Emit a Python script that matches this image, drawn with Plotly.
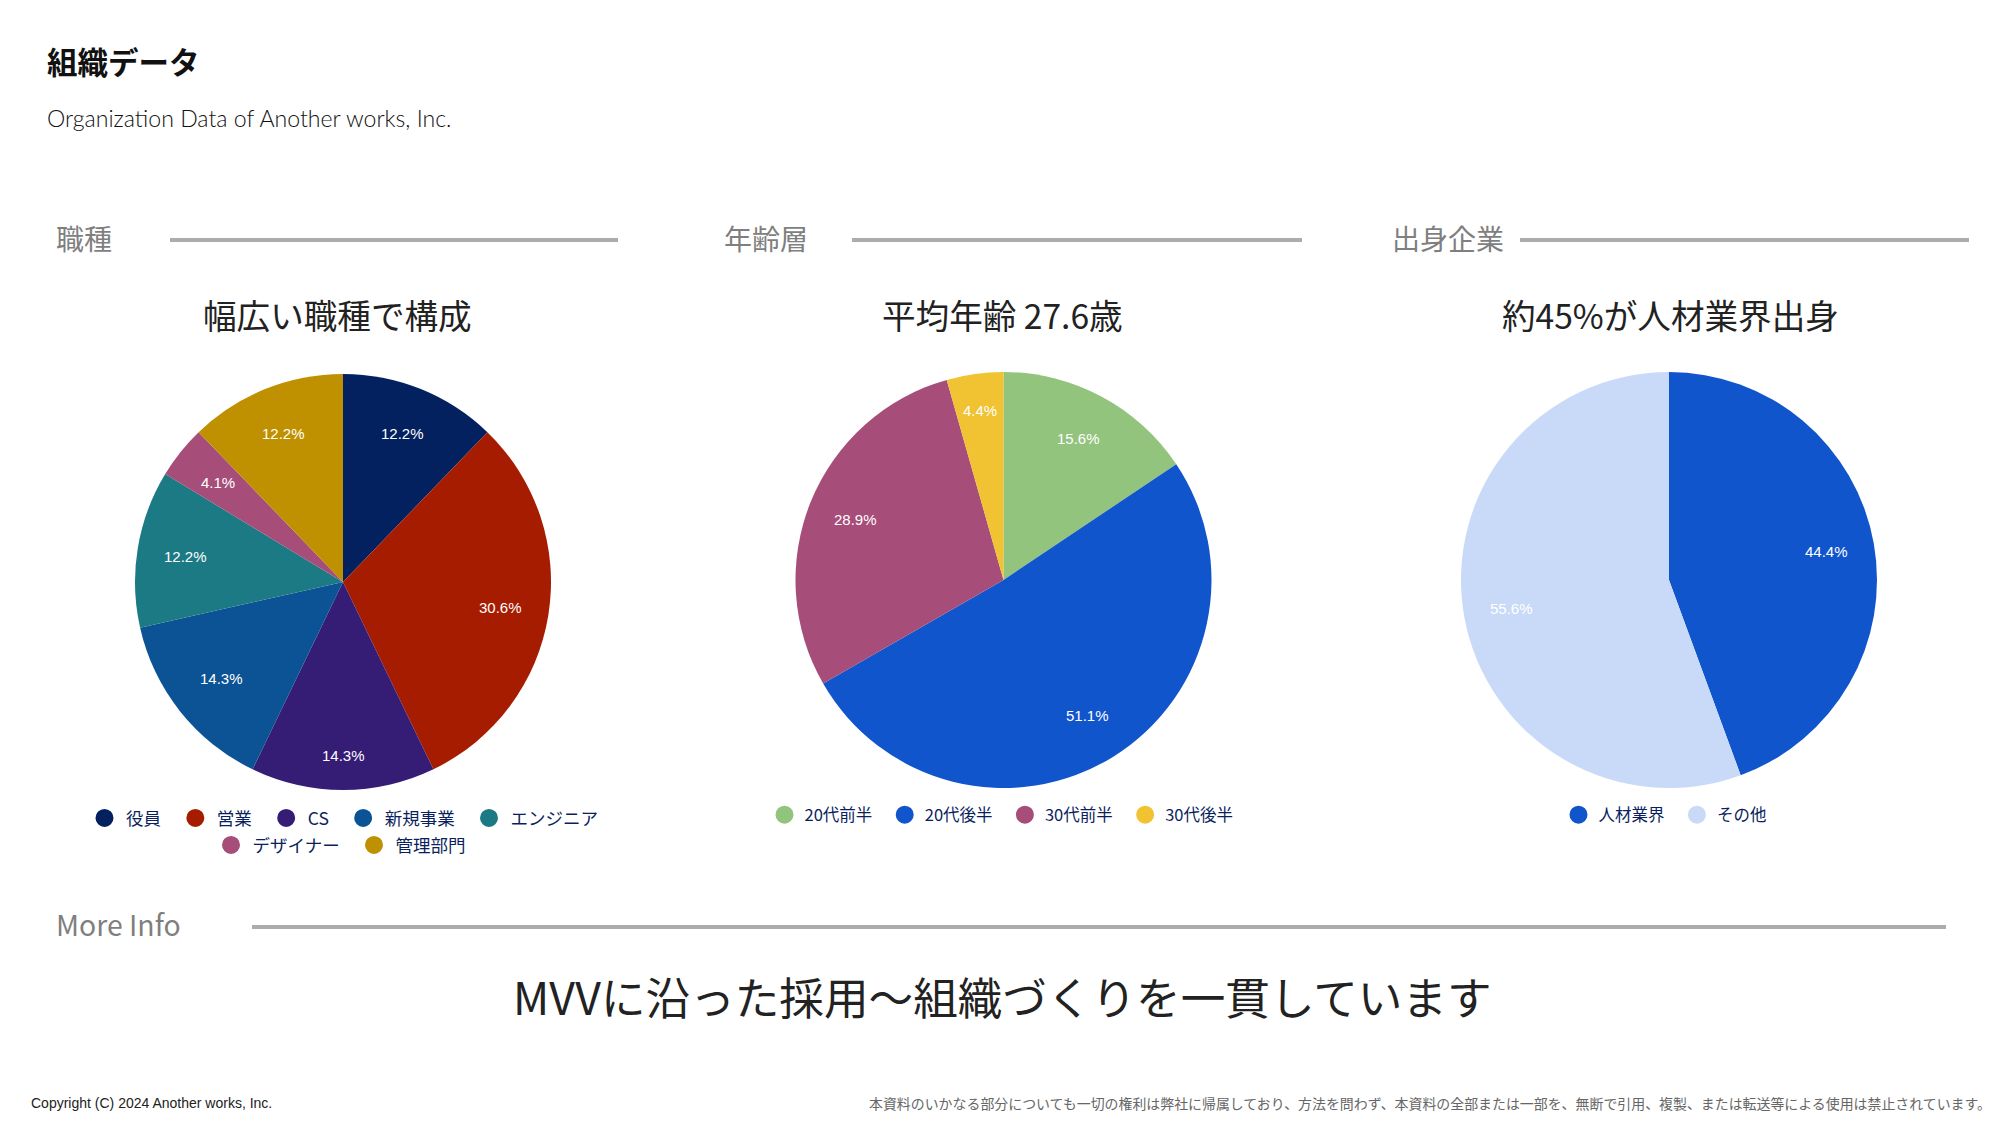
import math
import plotly.graph_objects as go

W, H = 2000, 1125
JP = "Noto Sans CJK JP"

# chart data
job_labels = ["役員", "営業", "CS", "新規事業", "エンジニア", "デザイナー", "管理部門"]
job_values = [12.2, 30.6, 14.3, 14.3, 12.2, 4.1, 12.2]
job_colors = ["#03205f", "#a61c00", "#351c75", "#0b5394", "#1c7a85", "#a64d79", "#bf9000"]

age_labels = ["20代前半", "20代後半", "30代前半", "30代後半"]
age_values = [15.6, 51.1, 28.9, 4.4]
age_colors = ["#93c47d", "#1155cc", "#a64d79", "#f1c232"]

origin_labels = ["人材業界", "その他"]
origin_values = [44.4, 55.6]
origin_colors = ["#1155cc", "#c9daf8"]

# how far out each percent label sits, in px from the pie centre
job_label_r = [160, 160, 173, 155, 160, 160, 160]
age_label_r = [160, 160, 160, 171]
origin_label_r = [160, 160]


def xf(px):
    return px / W


def yf(px):
    return 1 - px / H


def add_text(fig, text, x, y, size, color, anchor="left", family=JP, bold=False):
    if bold:
        text = "<b>" + text + "</b>"
    fig.add_annotation(x=xf(x), y=yf(y), xref="paper", yref="paper", text=text, showarrow=False,
                       xanchor=anchor, yanchor="middle",
                       font=dict(size=size, color=color, family=family))


def add_rule(fig, x0, x1, y):
    fig.add_shape(type="line", xref="paper", yref="paper", x0=xf(x0), x1=xf(x1), y0=yf(y), y1=yf(y),
                  line=dict(color="#acacac", width=4))


def add_pie(fig, labels, values, colors, label_r, cx, cy, r=208):
    fig.add_trace(go.Pie(labels=labels, values=values, sort=False, direction="clockwise", rotation=0,
                         marker=dict(colors=colors, line=dict(width=0)),
                         textinfo="none", showlegend=False,
                         domain=dict(x=[xf(cx - r), xf(cx + r)], y=[yf(cy + r), yf(cy - r)])))
    # the percent labels sit further out than plotly's inside text, so place them from the values
    total = sum(values)
    start = 0
    for v, lr in zip(values, label_r):
        angle = math.radians((start + v / 2) / total * 360)
        start += v
        add_text(fig, f"{v:.1f}%", cx + lr * math.sin(angle), cy - lr * math.cos(angle), 15, "white",
                 anchor="center", family="Liberation Sans")


def add_legend_items(fig, labels, colors, legend_id):
    for name, color in zip(labels, colors):
        fig.add_trace(go.Scatter(x=[None], y=[None], mode="markers", name=name + "\u00a0\u00a0", legend=legend_id,
                                 marker=dict(symbol="circle", size=16, color=color, line=dict(width=2, color=color))))


fig = go.Figure()

add_pie(fig, job_labels, job_values, job_colors, job_label_r, 343, 582)
add_pie(fig, age_labels, age_values, age_colors, age_label_r, 1003.5, 580)
add_pie(fig, origin_labels, origin_values, origin_colors, origin_label_r, 1669, 580)

add_legend_items(fig, job_labels[:5], job_colors[:5], "legend")
add_legend_items(fig, job_labels[5:], job_colors[5:], "legend2")
add_legend_items(fig, age_labels, age_colors, "legend3")
add_legend_items(fig, origin_labels, origin_colors, "legend4")

# headers
add_text(fig, "組織データ", 45, 61, 30.5, "#111111", bold=True)
add_text(fig, "Organization Data of Another works, Inc.", 45, 118, 23.1, "#111111", family="Lato Light, Lato")

add_text(fig, "職種", 54, 238, 28, "#7f7f7f")
add_text(fig, "年齢層", 722, 238, 28, "#7f7f7f")
add_text(fig, "出身企業", 1390, 238, 28, "#7f7f7f")
add_rule(fig, 170, 618, 240)
add_rule(fig, 852, 1302, 240)
add_rule(fig, 1520, 1969, 240)

add_text(fig, "幅広い職種で構成", 337, 314, 33.6, "#222222", anchor="center")
add_text(fig, "平均年齢 27.6歳", 1003, 314, 33.6, "#222222", anchor="center")
add_text(fig, "約45%が人材業界出身", 1670, 314, 33.6, "#222222", anchor="center")

add_text(fig, "More Info", 54, 923, 28.4, "#7f7f7f")
add_rule(fig, 252, 1946, 927)
add_text(fig, "MVVに沿った採用〜組織づくりを一貫しています", 1003, 995, 44.6, "#222222", anchor="center")

# footer
add_text(fig, "Copyright (C) 2024 Another works, Inc.", 29, 1103, 14, "#222222", family="Liberation Sans")
add_text(fig, "本資料のいかなる部分についても一切の権利は弊社に帰属しており、方法を問わず、本資料の全部または一部を、無断で引用、複製、または転送等による使用は禁止されています。",
         867, 1103, 13.93, "#666666")


def legend_cfg(cx, cy, size=16.5, item_width=30):
    return dict(orientation="h", x=xf(cx), y=yf(cy), xanchor="center", yanchor="middle",
                bgcolor="rgba(0,0,0,0)", itemsizing="trace", itemwidth=item_width, itemclick=False,
                font=dict(size=size, color="#0b1f5e", family=JP))


fig.update_layout(width=W, height=H, margin=dict(l=0, r=0, t=0, b=0),
                  paper_bgcolor="white", plot_bgcolor="white", showlegend=True,
                  xaxis=dict(visible=False), yaxis=dict(visible=False),
                  legend=legend_cfg(347, 818, 17.5, 33), legend2=legend_cfg(344, 845, 17.5, 33),
                  legend3=legend_cfg(1005, 815), legend4=legend_cfg(1669, 815))

fig.write_html("out.html", post_script="document.body.style.margin='0'", config=dict(displayModeBar=False))
